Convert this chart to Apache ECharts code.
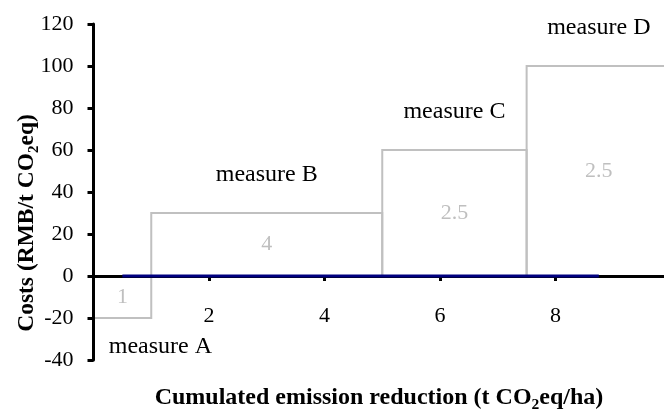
<!DOCTYPE html>
<html>
<head>
<meta charset="utf-8">
<script src="https://cdn.jsdelivr.net/npm/echarts@6/dist/echarts.min.js"></script>
<style>
html,body{margin:0;padding:0;background:#fff;}
#chart{width:664px;height:415px;}
</style>
</head>
<body>
<div id="chart"></div>
<script>
// ---- data ----
const measureNames = ['measure A', 'measure B', 'measure C', 'measure D'];
const reductions = [1, 4, 2.5, 2.5];      // width of each step (t CO2eq/ha)
const costs = [-20, 30, 60, 100];          // cost of each measure (RMB/t CO2eq)
const yMin = -40, yMax = 120, yStep = 20;
const xMin = 0, xMax = 10, xStep = 2;

// ---- derived ----
const steps = [];
let cum = 0;
for (let i = 0; i < reductions.length; i++) {
  steps.push([cum, cum + reductions[i], costs[i], reductions[i], measureNames[i]]);
  cum += reductions[i];
}
const midPoints = steps.map(s => [(s[0] + s[1]) / 2, 0]);

const FONT = "'Liberation Serif', 'Times New Roman', serif";

// layout (pixels)
const GRID_TOP = 24, GRID_H = 336, GRID_LEFT = 93.5, GRID_W = 577.5;
const zeroOffset = -GRID_H * (0 - yMin) / (yMax - yMin); // move x axis up to y = 0

const chart = echarts.init(document.getElementById('chart'), null, {renderer: 'canvas'});

chart.setOption({
  animation: false,
  backgroundColor: '#ffffff',
  grid: {left: GRID_LEFT, top: GRID_TOP, height: GRID_H, width: GRID_W,
         containLabel: false, outerBoundsMode: 'none'},
  xAxis: {
    type: 'value', min: xMin, max: xMax, interval: xStep, z: 5,
    offset: zeroOffset,
    axisLine: {show: true, onZero: false, lineStyle: {color: '#000', width: 3}},
    axisTick: {show: true, length: 5, lineStyle: {color: '#000', width: 3}},
    splitLine: {show: false},
    axisLabel: {
      margin: 29, fontSize: 22, color: '#000', fontFamily: FONT,
      formatter: v => (v === xMin || v === xMax) ? '' : String(v)
    }
  },
  yAxis: {
    type: 'value', min: yMin, max: yMax, interval: yStep, z: 5,
    axisLine: {show: true, onZero: false, lineStyle: {color: '#000', width: 3}},
    axisTick: {show: true, length: 6, lineStyle: {color: '#000', width: 3}},
    splitLine: {show: false},
    axisLabel: {margin: 20, fontSize: 22, color: '#000', fontFamily: FONT}
  },
  graphic: [
    {
      type: 'text', x: 27, y: 223, rotation: Math.PI / 2, z: 10,
      style: {
        text: '{b|Costs (RMB/t CO}{s|2}{b|eq)}',
        align: 'center', verticalAlign: 'middle',
        rich: {
          b: {fontSize: 23.5, fontWeight: 'bold', fontFamily: FONT, fill: '#000', lineHeight: 30},
          s: {fontSize: 15, fontWeight: 'bold', fontFamily: FONT, fill: '#000', lineHeight: 30, verticalAlign: 'bottom'}
        }
      }
    },
    {
      type: 'text', x: 379, y: 398, z: 10,
      style: {
        text: '{b|Cumulated emission reduction (t CO}{s|2}{b|eq/ha)}',
        align: 'center', verticalAlign: 'middle',
        rich: {
          b: {fontSize: 24, fontWeight: 'bold', fontFamily: FONT, fill: '#000', lineHeight: 30},
          s: {fontSize: 15.5, fontWeight: 'bold', fontFamily: FONT, fill: '#000', lineHeight: 30, verticalAlign: 'bottom'}
        }
      }
    }
  ],
  series: [
    {
      type: 'custom', z: 1, clip: false,
      data: steps,
      encode: {x: [0, 1], y: 2},
      renderItem: function (params, api) {
        const x0 = api.value(0), x1 = api.value(1), h = api.value(2);
        const w = api.value(3), name = steps[params.dataIndex][4];
        const p0 = api.coord([x0, 0]);
        const p1 = api.coord([x1, h]);
        const pm = api.coord([(x0 + x1) / 2, h / 2]);
        const top = Math.min(p0[1], p1[1]);
        const bot = Math.max(p0[1], p1[1]);
        const neg = h < 0;
        return {
          type: 'group',
          children: [
            {
              type: 'rect',
              shape: {x: p0[0], y: top, width: p1[0] - p0[0], height: bot - top},
              style: {fill: 'none', stroke: '#c0c0c0', lineWidth: 2}
            },
            {
              type: 'text',
              style: {text: String(w), x: pm[0], y: pm[1], align: 'center', verticalAlign: 'middle',
                      fill: '#bfbfbf', fontSize: 22, fontFamily: FONT}
            },
            {
              type: 'text',
              style: {text: name,
                      x: neg ? (p0[0] + p1[0]) / 2 + 38 : (p0[0] + p1[0]) / 2,
                      y: neg ? bot + 29 : top - 38,
                      align: 'center', verticalAlign: 'middle',
                      fill: '#000', fontSize: 24, fontFamily: FONT}
            }
          ]
        };
      }
    },
    {
      type: 'line', z: 6, data: midPoints, symbol: 'none',
      lineStyle: {color: '#000080', width: 3}
    }
  ]
});
</script>
</body>
</html>
